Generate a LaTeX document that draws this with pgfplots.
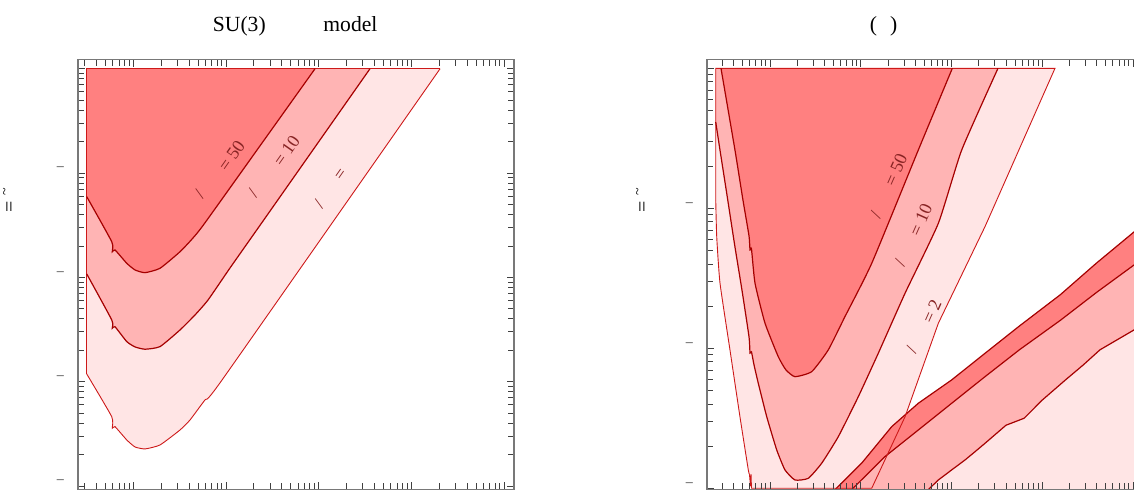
\documentclass[border=0pt]{standalone}
\usepackage{pgfplots}
\pgfplotsset{compat=1.18}
\usepackage{fontspec}
\setmainfont{Liberation Serif}

\definecolor{cdark}{RGB}{255,128,128}
\definecolor{cmid}{RGB}{255,180,180}
\definecolor{clight}{RGB}{255,229,229}
\definecolor{cline}{RGB}{165,0,0}
\definecolor{cedge}{RGB}{205,25,25}
\definecolor{ctext}{RGB}{135,35,35}
\definecolor{cframe}{RGB}{120,120,120}

\def\xminors{-0.523,-0.398,-0.301,-0.222,-0.155,-0.097,-0.046,0.301,0.477,0.602,0.699,0.778,0.845,0.903,0.954,1.301,1.477,1.602,1.699,1.778,1.845,1.903,1.954,2.301,2.477,2.602,2.699,2.778,2.845,2.903,2.954,3.301,3.477,3.602,3.699,3.778,3.845,3.903,3.954}
\def\yminorsL{-3.699,-3.523,-3.398,-3.301,-3.222,-3.155,-3.097,-3.046,-2.699,-2.523,-2.398,-2.301,-2.222,-2.155,-2.097,-2.046,-1.699,-1.523,-1.398,-1.301,-1.222,-1.155,-1.097,-1.046,-0.699,-0.523,-0.398,-0.301,-0.222,-0.155,-0.097,-0.046}
\def\yminorsR{-2.699,-2.523,-2.398,-2.301,-2.222,-2.155,-2.097,-2.046,-1.699,-1.523,-1.398,-1.301,-1.222,-1.155,-1.097,-1.046,-0.699,-0.523,-0.398,-0.301,-0.222,-0.155,-0.097,-0.046}

\pgfplotsset{
  panel/.style={
    scale only axis, width=218pt, height=215pt,
    anchor=south west,
    tick align=inside,
    major tick length=3.6pt, minor tick length=3.1pt,
    axis line style={draw=cframe, line width=0.9pt},
    every tick/.append style={black!75, line width=0.45pt},
    xtick={0,1,2,3,4}, minor xtick=\xminors,
    xticklabels={},
    yticklabel style={font=\fontsize{7}{8}\selectfont, text=black!80, xshift=-3.5pt, yshift=2pt},
    axis on top,
  },
  cont/.style={smooth, tension=0.3},
}
\tikzset{lab/.style={text=ctext, font=\fontsize{9}{10}\selectfont, inner sep=0pt}}

% ---- data (log10 units) ----
% left panel contours
\def\LA{(-0.503,-2.926) (-0.233,-3.336) (-0.227,-3.447) (-0.198,-3.431) (-0.071,-3.559) (0.018,-3.626) (0.126,-3.645) (0.288,-3.607) (0.504,-3.463) (0.612,-3.367) (0.773,-3.175) (0.957,-2.984) (3.309,0)}
\def\LB{(-0.503,-1.967) (-0.233,-2.408) (-0.227,-2.488) (-0.198,-2.473) (-0.071,-2.616) (0.018,-2.667) (0.126,-2.689) (0.288,-2.664) (0.504,-2.504) (0.666,-2.360) (0.806,-2.217) (1.043,-1.910) (1.407,-1.450) (2.553,0)}
\def\LC{(-0.503,-1.226) (-0.233,-1.658) (-0.227,-1.754) (-0.198,-1.737) (-0.071,-1.865) (0.018,-1.929) (0.126,-1.955) (0.288,-1.913) (0.504,-1.754) (0.644,-1.622) (0.795,-1.450) (1.960,0)}
% right panel contours
\def\RAl{(-0.598,-0.941) (-0.587,-1.203) (-0.551,-1.534) (-0.441,-2.012) (-0.331,-2.489) (-0.239,-2.869) (-0.226,-2.90)}
\def\RAr{(1.121,-3.0) (1.488,-2.489) (1.855,-1.821) (2.369,-1.131) (3.140,0)}
\def\RB{(-0.598,-0.384) (-0.551,-0.584) (-0.474,-0.905) (-0.386,-1.276) (-0.309,-1.584) (-0.231,-1.919) (-0.220,-2.034) (-0.204,-2.026) (-0.176,-2.119) (-0.129,-2.250) (-0.036,-2.489) (0.074,-2.726) (0.165,-2.869) (0.275,-2.941) (0.422,-2.929) (0.570,-2.821) (0.753,-2.631) (0.973,-2.346) (1.193,-2.036) (1.488,-1.607) (1.855,-1.107) (2.112,-0.584) (2.512,0)}
\def\RC{(-0.540,0) (-0.386,-0.584) (-0.298,-0.941) (-0.231,-1.198) (-0.220,-1.298) (-0.204,-1.291) (-0.165,-1.536) (-0.055,-1.821) (0.091,-2.060) (0.176,-2.155) (0.275,-2.203) (0.460,-2.167) (0.642,-2.012) (0.826,-1.774) (1.121,-1.393) (1.634,-0.584) (2.009,0)}
% lower right band edges
\def\BU{(0.716,-3.01) (1.010,-2.821) (1.341,-2.560) (1.634,-2.393) (2.002,-2.226) (2.369,-2.036) (2.75,-1.84) (3.196,-1.619) (3.6,-1.39) (4.011,-1.169) (4.11,-1.11)}
\def\BL{(4.11,-1.40) (4.011,-1.405) (3.6,-1.60) (3.2,-1.80) (2.75,-2.01) (2.369,-2.203) (2.002,-2.393) (1.634,-2.584) (1.267,-2.774) (0.900,-3.01)}
\def\BM{(4.11,-1.91) (4.011,-1.869) (3.85,-1.93) (3.636,-2.011) (3.45,-2.12) (3.256,-2.226) (3.0,-2.37) (2.8,-2.50) (2.6,-2.55) (2.369,-2.679) (2.259,-2.739) (2.149,-2.798) (2.002,-2.869) (1.855,-2.941) (1.744,-3.01)}

\begin{document}
\begin{tikzpicture}[x=0.5pt,y=0.5pt]

% titles
\node[anchor=base west, font=\fontsize{10.8}{13}\selectfont, inner sep=0pt] at (212.5,459.5) {SU(3)};
\node[anchor=base west, font=\fontsize{10.8}{13}\selectfont, inner sep=0pt] at (323,459.5) {model};
\node[anchor=base west, font=\fontsize{10.8}{13}\selectfont, inner sep=0pt] at (869.5,459.5) {(};
\node[anchor=base west, font=\fontsize{10.8}{13}\selectfont, inner sep=0pt] at (889.7,459.5) {)};

% y labels
\node[rotate=90, font=\fontsize{10}{12}\selectfont, inner sep=0pt] at (11,284) {=};
\node[rotate=90, font=\fontsize{7}{8}\selectfont, inner sep=0pt] at (6,299.5) {\textasciitilde};
\node[rotate=90, font=\fontsize{10}{12}\selectfont, inner sep=0pt] at (644,284.3) {=};
\node[rotate=90, font=\fontsize{7}{8}\selectfont, inner sep=0pt] at (639,299.5) {\textasciitilde};

% ---------------- left panel ----------------
\begin{axis}[panel, at={(39pt,0.75pt)},
  xmin=-0.597, xmax=4.107, ymin=-4.034, ymax=0.089,
  ytick={-4,-3,-2,-1,0}, yticklabels={--,--,--,--,{}},
  minor ytick=\yminorsL]
\addplot[cont, draw=none, fill=clight] coordinates {\LA} -- (axis cs:-0.503,0) -- cycle;
\addplot[cont, draw=none, fill=cmid] coordinates {\LB} -- (axis cs:-0.503,0) -- cycle;
\addplot[cont, draw=none, fill=cdark] coordinates {\LC} -- (axis cs:-0.503,0) -- cycle;
\addplot[cedge, line width=0.45pt] coordinates {(3.309,0) (-0.503,0) (-0.503,-2.926)};
\addplot[cont, cedge, line width=0.45pt] coordinates {\LA};
\addplot[cont, cline, line width=0.6pt] coordinates {\LB};
\addplot[cont, cline, line width=0.6pt] coordinates {\LC};
% labels
\node[lab, rotate=55] at (axis cs:0.714,-1.200) {/};
\node[lab, rotate=55] at (axis cs:1.060,-0.836) {= 50};
\node[lab, rotate=55] at (axis cs:1.291,-1.196) {/};
\node[lab, rotate=55] at (axis cs:1.653,-0.788) {= 10};
\node[lab, rotate=55] at (axis cs:2.003,-1.296) {/};
\node[lab, rotate=55] at (axis cs:2.246,-1.018) {=};
\end{axis}

% ---------------- right panel ----------------
\begin{axis}[panel, at={(353.5pt,0.75pt)},
  xmin=-0.694, xmax=4.110, ymin=-3.009, ymax=0.063,
  ytick={-3,-2,-1,0}, yticklabels={--,--,--,{}},
  minor ytick=\yminorsR]
% U-shaped region fills
\addplot[cont, draw=none, fill=clight] coordinates {\RAl}
  -- (axis cs:-0.215,-2.985) -- (axis cs:-0.209,-2.90) -- (axis cs:-0.204,-3.0)
  -- (axis cs:1.121,-3.0) -- (axis cs:1.488,-2.489) -- (axis cs:1.855,-1.821)
  -- (axis cs:2.369,-1.131) -- (axis cs:3.140,0) -- (axis cs:-0.598,0) -- cycle;
\addplot[cont, draw=none, fill=cmid] coordinates {\RB} -- (axis cs:-0.598,0) -- cycle;
\addplot[cont, draw=none, fill=cdark] coordinates {\RC} -- cycle;
% lower right band fills
\addplot[draw=none, fill=clight] coordinates {\BU (4.11,-3.01)};
\addplot[draw=none, fill=cmid] coordinates {\BU \BM};
\addplot[draw=none, fill=cdark] coordinates {\BU \BL};
% lines
\addplot[cline, line width=0.6pt] coordinates {\BU};
\addplot[cline, line width=0.6pt] coordinates {\BL};
\addplot[cline, line width=0.6pt] coordinates {\BM};
\addplot[cont, cedge, line width=0.45pt] coordinates {\RAl};
\addplot[cedge, line width=0.45pt] coordinates {(-0.226,-2.90) (-0.215,-2.985) (-0.209,-2.90) (-0.204,-3.0) \RAr (-0.598,0) (-0.598,-0.941)};
\addplot[cont, cline, line width=0.6pt] coordinates {\RB};
\addplot[cont, cline, line width=0.6pt] coordinates {\RC};
% labels
\node[lab, rotate=66] at (axis cs:1.166,-1.048) {/};
\node[lab, rotate=66] at (axis cs:1.386,-0.726) {= 50};
\node[lab, rotate=66] at (axis cs:1.433,-1.393) {/};
\node[lab, rotate=66] at (axis cs:1.662,-1.083) {= 10};
\node[lab, rotate=66] at (axis cs:1.561,-2.012) {/};
\node[lab, rotate=66] at (axis cs:1.782,-1.739) {= 2};
\end{axis}

\pgfresetboundingbox
\useasboundingbox (0,0) rectangle (1134,491);
\end{tikzpicture}
\end{document}
